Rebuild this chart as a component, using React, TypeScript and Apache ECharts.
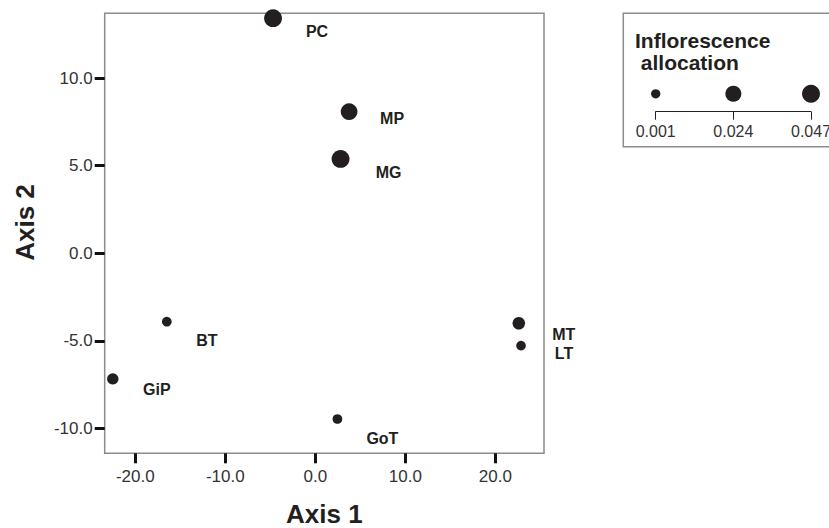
import React, { useEffect, useRef } from "react";
import * as echarts from "echarts";

// ---- data ----
const names = ["PC", "MP", "MG", "BT", "GiP", "GoT", "MT", "LT"];
const axis1 = [-4.7, 3.75, 2.8, -16.5, -22.5, 2.45, 22.6, 22.85];
const axis2 = [13.43, 8.09, 5.39, -3.91, -7.18, -9.47, -4.0, -5.28];
const allocation = [0.045, 0.032, 0.046, 0.0024, 0.008, 0.0024, 0.012, 0.002];
const legendValues = [0.001, 0.024, 0.047];
const xTicks = [-20, -10, 0, 10, 20];
const yTicks = [-10, -5, 0, 5, 10];

// ---- styles ----
const FONT = "'Liberation Sans', Arial, Helvetica, sans-serif";
const INK = "#231f20";
const legendDiameters = [9.3, 16, 18];
const labelNudge: Record<string, [number, number]> = {
  PC: [44, 13],
  MP: [43, 7],
  MG: [48, 14],
  BT: [40, 19],
  GiP: [44, 11],
  GoT: [45, 20],
  MT: [45, 11],
  LT: [43, 8],
};

function sizeFor(v: number): number {
  const lv = legendValues;
  const ld = legendDiameters;
  if (v <= lv[0]) return ld[0];
  for (let i = 0; i < lv.length - 1; i++) {
    if (v <= lv[i + 1]) {
      const t = (v - lv[i]) / (lv[i + 1] - lv[i]);
      return ld[i] + t * (ld[i + 1] - ld[i]);
    }
  }
  return ld[ld.length - 1];
}

export default function App() {
  const ref = useRef<HTMLDivElement>(null);
  useEffect(() => {
    document.body.style.margin = "0";
    if (!ref.current) return;
    const chart = echarts.init(ref.current, undefined, { renderer: "svg" });

    const points = names.map((n, i) => ({
      name: n,
      value: [axis1[i], axis2[i], allocation[i]],
      label: { offset: labelNudge[n] },
    }));

    chart.setOption({
      animation: false,
      backgroundColor: "#ffffff",
      title: {
        text: "Inflorescence\n allocation",
        left: 635,
        top: 29,
        padding: 0,
        textStyle: {
          fontFamily: FONT,
          fontSize: 21,
          fontWeight: "bold",
          color: INK,
          lineHeight: 22,
        },
      },
      grid: [
        {
          left: 104.7,
          right: 285,
          top: 13.3,
          bottom: 74.7,
          show: true,
          containLabel: false,
          outerBoundsMode: "none",
          borderColor: "#8c8c8c",
          borderWidth: 1.5,
          backgroundColor: "transparent",
        },
        {
          left: 655.7,
          right: 18,
          top: 80,
          bottom: 416.3,
          show: false,
          containLabel: false,
          outerBoundsMode: "none",
        },
      ],
      xAxis: [
        {
          type: "value",
          gridIndex: 0,
          position: "bottom",
          min: -23.4,
          max: 25.4,
          splitLine: { show: false },
          axisLine: { show: false, onZero: false },
          axisTick: {
            show: true,
            customValues: xTicks,
            length: 10,
            lineStyle: { color: "#111", width: 3 },
          },
          axisLabel: {
            customValues: xTicks,
            formatter: (v: number) => v.toFixed(1),
            fontFamily: FONT,
            fontSize: 17,
            color: "#333",
            margin: 15,
          },
          name: "Axis 1",
          nameLocation: "middle",
          nameGap: 48,
          nameTextStyle: {
            fontFamily: FONT,
            fontSize: 26,
            fontWeight: "bold",
            color: INK,
          },
        },
        {
          type: "value",
          gridIndex: 1,
          position: "bottom",
          min: 0.001,
          max: 0.047,
          splitLine: { show: false },
          axisLine: { show: true, onZero: false, lineStyle: { color: "#222", width: 1 } },
          axisTick: {
            show: true,
            customValues: legendValues,
            length: 8,
            lineStyle: { color: "#222", width: 1 },
          },
          axisLabel: {
            customValues: legendValues,
            formatter: (v: number) => v.toFixed(3),
            fontFamily: FONT,
            fontSize: 16,
            color: "#333",
            margin: 12,
          },
        },
      ],
      yAxis: [
        {
          type: "value",
          gridIndex: 0,
          position: "left",
          min: -11.43,
          max: 13.71,
          splitLine: { show: false },
          axisLine: { show: false, onZero: false },
          axisTick: {
            show: true,
            customValues: yTicks,
            length: 10,
            lineStyle: { color: "#111", width: 3 },
          },
          axisLabel: {
            customValues: yTicks,
            formatter: (v: number) => v.toFixed(1),
            fontFamily: FONT,
            fontSize: 17,
            color: "#333",
            margin: 12,
          },
        },
        {
          type: "value",
          gridIndex: 1,
          min: -1.3,
          max: 1,
          show: false,
          axisLine: { onZero: false },
        },
      ],
      graphic: [
        {
          type: "rect",
          shape: { x: 623.3, y: 13.3, width: 260, height: 133.4 },
          style: { fill: "none", stroke: "#8c8c8c", lineWidth: 1.5 },
          silent: true,
        },
        {
          type: "text",
          x: 25,
          y: 222.5,
          rotation: Math.PI / 2,
          style: {
            text: "Axis 2",
            font: `bold 26px ${FONT}`,
            fill: INK,
            align: "center",
            verticalAlign: "middle",
          },
        },
      ],
      series: [
        {
          type: "scatter",
          xAxisIndex: 0,
          yAxisIndex: 0,
          clip: false,
          data: points,
          symbolSize: (val: number[]) => sizeFor(val[2]),
          itemStyle: { color: INK, opacity: 1 },
          label: {
            show: true,
            position: "inside",
            formatter: (p: any) => p.name,
            fontFamily: FONT,
            fontSize: 16,
            fontWeight: "bold",
            color: INK,
            align: "center",
            verticalAlign: "middle",
          },
          emphasis: { disabled: true },
        },
        {
          type: "scatter",
          xAxisIndex: 1,
          yAxisIndex: 1,
          clip: false,
          data: legendValues.map((v) => [v, 0, v]),
          symbolSize: (val: number[]) => sizeFor(val[2]),
          itemStyle: { color: INK, opacity: 1 },
          emphasis: { disabled: true },
        },
      ],
    });

    return () => chart.dispose();
  }, []);

  return <div ref={ref} style={{ width: 829, height: 528 }} />;
}
